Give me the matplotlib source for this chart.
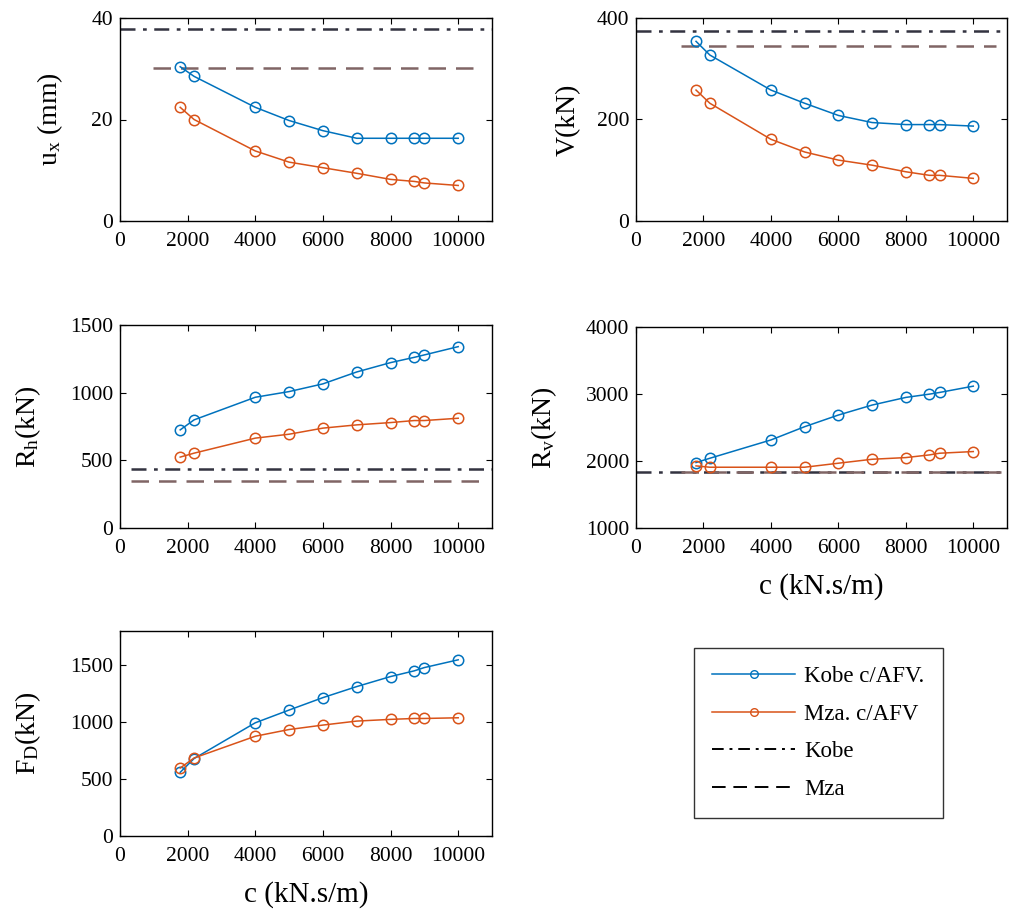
import matplotlib
matplotlib.use("Agg")
import matplotlib.pyplot as plt
from matplotlib.lines import Line2D

plt.rcParams["font.family"] = ["Liberation Serif", "DejaVu Serif"]
plt.rcParams["mathtext.fontset"] = "custom"
plt.rcParams["mathtext.rm"] = "Liberation Serif"
plt.rcParams["mathtext.it"] = "Liberation Serif:italic"

BLUE = "#0072BD"
ORANGE = "#D95319"
KOBE_REF = "#333340"
MZA_REF = "#806565"
DASHDOT = (0, (6, 3, 1.5, 3))
DASHED = (0, (7, 4))

# damping coefficient c (kN.s/m)
c_vals = [1780, 2190, 4000, 5000, 6000, 7000, 8000, 8700, 9000, 10000]

ux_kobe = [30.4, 28.5, 22.4, 19.8, 17.8, 16.3, 16.3, 16.3, 16.3, 16.3]
ux_mza = [22.4, 20.0, 13.8, 11.6, 10.5, 9.4, 8.2, 7.8, 7.5, 7.0]
ux_ref = (37.9, 30.2)

v_kobe = [354, 327, 258, 232, 208, 194, 190, 190, 190, 187]
v_mza = [258, 232, 161, 136, 120, 110, 97, 90, 90, 84]
v_ref = (374, 344)

rh_kobe = [725, 799, 966, 1008, 1065, 1153, 1222, 1261, 1279, 1340]
rh_mza = [524, 553, 664, 693, 738, 762, 779, 794, 794, 811]
rh_ref = (438, 349)

rv_kobe = [1977, 2041, 2314, 2512, 2686, 2835, 2949, 2998, 3023, 3117]
rv_mza = [1927, 1907, 1907, 1907, 1967, 2026, 2051, 2091, 2116, 2141]
rv_ref = (1843, 1835)

fd_kobe = [559, 680, 994, 1106, 1215, 1312, 1400, 1450, 1479, 1547]
fd_mza = [597, 685, 876, 935, 974, 1009, 1024, 1032, 1032, 1038]

W, H = 1010, 910
fig = plt.figure(figsize=(W / 100, H / 100), dpi=100)


def px_axes(left, top, right, bottom):
    return fig.add_axes([left / W, 1 - bottom / H, (right - left) / W, (bottom - top) / H])


def draw_panel(ax, kobe, mza, ref, ylim, yticks, ylabel, xlabel=None, ref_span=None, ypad=19):
    if ref is not None:
        (k0, k1), (m0, m1) = ref_span
        ax.axhline(ref[0], xmin=k0, xmax=k1, color=KOBE_REF, ls=DASHDOT, lw=1.8, zorder=1)
        ax.axhline(ref[1], xmin=m0, xmax=m1, color=MZA_REF, ls=DASHED, lw=1.8, zorder=1)
    ax.plot(c_vals, kobe, "-o", color=BLUE, lw=1.1, ms=7.5, mfc="none", mew=1.1, zorder=3)
    ax.plot(c_vals, mza, "-o", color=ORANGE, lw=1.1, ms=7.5, mfc="none", mew=1.1, zorder=3)
    ax.set_xlim(0, 11000)
    ax.set_xticks([0, 2000, 4000, 6000, 8000, 10000])
    ax.set_ylim(*ylim)
    ax.set_yticks(yticks)
    ax.tick_params(direction="in", top=True, right=True, labelsize=15.5, length=4, width=0.8)
    ax.tick_params(axis="x", pad=8)
    ax.tick_params(axis="y", pad=5)
    for sp in ax.spines.values():
        sp.set_linewidth(1.0)
    ax.set_ylabel(ylabel, fontsize=20, labelpad=ypad)
    if xlabel:
        ax.set_xlabel(xlabel, fontsize=21, labelpad=11)


ax1 = px_axes(120, 18, 492, 221)
draw_panel(ax1, ux_kobe, ux_mza, ux_ref, (0, 40), [0, 20, 40], r"u$_\mathrm{x}$ (mm)",
           ref_span=((0, 1), (0.09, 0.97)))

ax2 = px_axes(636, 18, 1007, 221)
draw_panel(ax2, v_kobe, v_mza, v_ref, (0, 400), [0, 200, 400], "V(kN)",
           ref_span=((0, 1), (0.12, 0.97)), ypad=11)

ax3 = px_axes(120, 325, 492, 528)
draw_panel(ax3, rh_kobe, rh_mza, rh_ref, (0, 1500), [0, 500, 1000, 1500], r"R$_\mathrm{h}$(kN)",
           ref_span=((0.03, 1), (0.03, 0.97)))

ax4 = px_axes(636, 327, 1007, 528)
draw_panel(ax4, rv_kobe, rv_mza, rv_ref, (1000, 4000), [1000, 2000, 3000, 4000],
           r"R$_\mathrm{v}$(kN)", "c (kN.s/m)", ref_span=((0, 1), (0.12, 1)))

ax5 = px_axes(120, 631, 492, 836)
draw_panel(ax5, fd_kobe, fd_mza, None, (0, 1800), [0, 500, 1000, 1500],
           r"F$_\mathrm{D}$(kN)", "c (kN.s/m)")

handles = [
    Line2D([], [], color=BLUE, lw=1.1, marker="o", ms=5.5, mfc="none"),
    Line2D([], [], color=ORANGE, lw=1.1, marker="o", ms=5.5, mfc="none"),
    Line2D([], [], color="black", lw=1.4, ls=DASHDOT),
    Line2D([], [], color="black", lw=1.4, ls=DASHED),
]
labels = ["Kobe c/AFV.", "Mza. c/AFV", "Kobe", "Mza"]
leg = fig.legend(handles, labels, loc="upper left", bbox_to_anchor=(694 / W, 1 - 648 / H),
                 fontsize=16.5, frameon=True, fancybox=False, edgecolor="black",
                 handlelength=3.6, handletextpad=0.4, labelspacing=0.72, borderpad=0.8,
                 borderaxespad=0)
leg.get_frame().set_linewidth(1.0)

fig.savefig("out.png", dpi=100)
